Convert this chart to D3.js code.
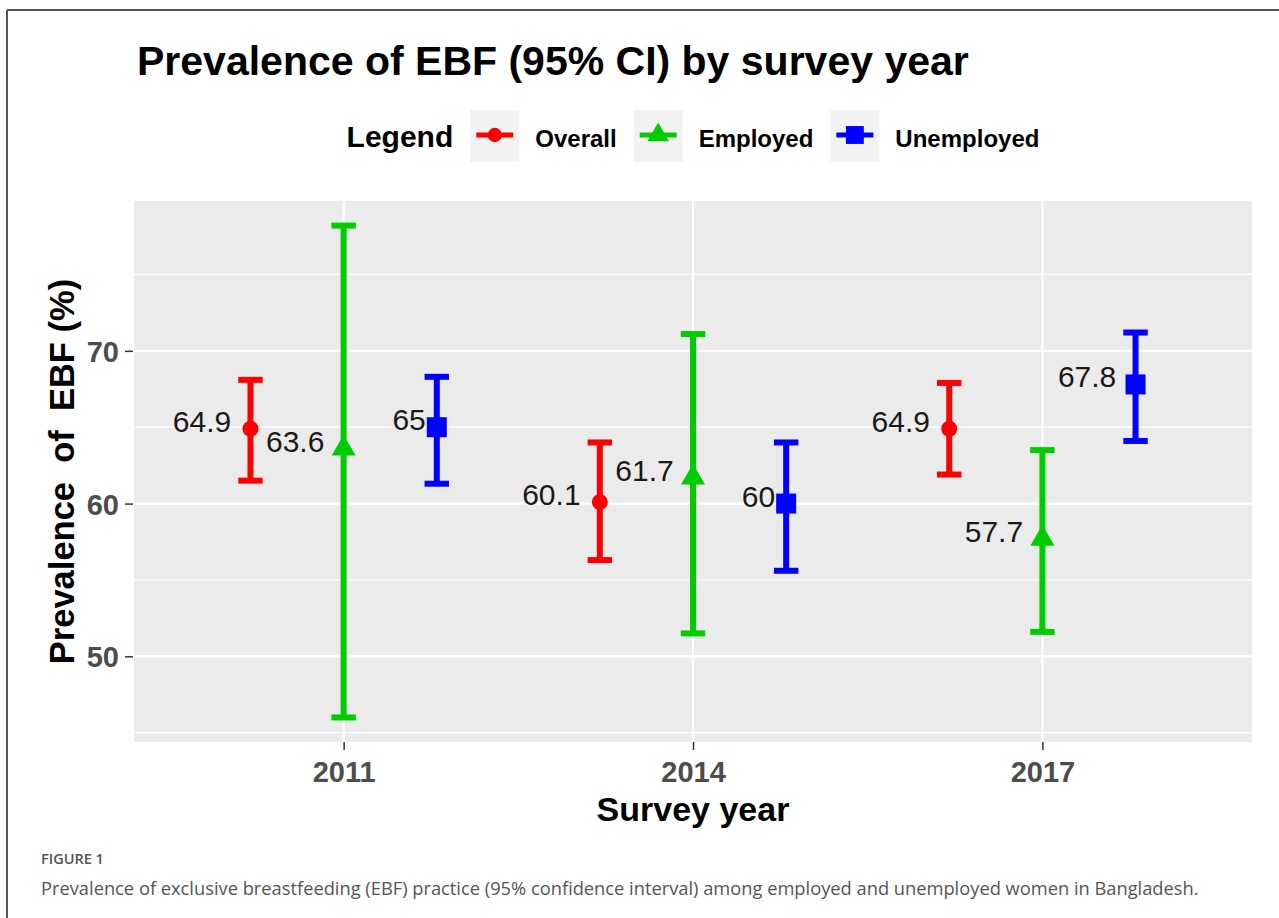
<!DOCTYPE html>
<html>
<head>
<meta charset="utf-8">
<script src="https://cdn.jsdelivr.net/npm/d3@7"></script>
<style>
body { margin: 0; background: #fff; }
text { font-family: "Liberation Sans", Arial, sans-serif; }
</style>
</head>
<body>
<div id="chart"></div>
<script>
// chart values
var years = ["2011", "2014", "2017"];
var groups = ["Overall", "Employed", "Unemployed"];
var estOverall = [64.9, 60.1, 64.9];
var lowOverall = [61.5, 56.3, 61.9];
var highOverall = [68.1, 64.0, 67.9];
var estEmployed = [63.6, 61.7, 57.7];
var lowEmployed = [46.0, 51.5, 51.6];
var highEmployed = [78.2, 71.1, 63.5];
var estUnemployed = [65, 60, 67.8];
var lowUnemployed = [61.3, 55.6, 64.1];
var highUnemployed = [68.3, 64.0, 71.2];
var yTicks = [50, 60, 70];
var yMinorTicks = [45, 55, 65, 75];

var colors = ["#ff0000", "#00cd00", "#0000ff"];
var shapes = [d3.symbolCircle, d3.symbolTriangle, d3.symbolSquare];
var shapeSizes = [200, 250, 400];

// svg area
var svgWidth = 1279;
var svgHeight = 918;
var panel = { left: 134, right: 1252, top: 201, bottom: 742 };

var svg = d3.select("#chart").append("svg")
    .attr("width", svgWidth)
    .attr("height", svgHeight);

// frame lines (top + left)
svg.append("line").attr("x1", 7).attr("x2", svgWidth).attr("y1", 10).attr("y2", 10)
    .attr("stroke", "#555").attr("stroke-width", 2);
svg.append("line").attr("x1", 7).attr("x2", 7).attr("y1", 10).attr("y2", svgHeight)
    .attr("stroke", "#555").attr("stroke-width", 2);

// build rows
var ests = [estOverall, estEmployed, estUnemployed];
var lows = [lowOverall, lowEmployed, lowUnemployed];
var highs = [highOverall, highEmployed, highUnemployed];
var rows = [];
groups.forEach(function(g, i) {
    years.forEach(function(y, j) {
        rows.push({ group: g, gi: i, year: y, est: ests[i][j], low: lows[i][j], high: highs[i][j] });
    });
});

// scales (ggplot-like 5% expansion)
var lo = d3.min(rows, d => d.low), hi = d3.max(rows, d => d.high);
var pad = (hi - lo) * 0.05;
var yscale = d3.scaleLinear().domain([lo - pad, hi + pad]).range([panel.bottom, panel.top]);
var xscale = d3.scalePoint().domain(years).range([panel.left, panel.right]).padding(0.6);
var step = xscale.step();
var dodge = d => (d.gi - 1) * 0.8 / 3 * step;
var capHalf = step * 0.035;

// panel background + grid
svg.append("rect")
    .attr("x", panel.left).attr("y", panel.top)
    .attr("width", panel.right - panel.left).attr("height", panel.bottom - panel.top)
    .attr("fill", "#ebebeb");

svg.selectAll(".minor").data(yMinorTicks).enter().append("line")
    .attr("x1", panel.left).attr("x2", panel.right)
    .attr("y1", d => yscale(d)).attr("y2", d => yscale(d))
    .attr("stroke", "#fff").attr("stroke-width", 1.2);
svg.selectAll(".major").data(yTicks).enter().append("line")
    .attr("x1", panel.left).attr("x2", panel.right)
    .attr("y1", d => yscale(d)).attr("y2", d => yscale(d))
    .attr("stroke", "#fff").attr("stroke-width", 2.2);
svg.selectAll(".vmajor").data(years).enter().append("line")
    .attr("x1", d => xscale(d)).attr("x2", d => xscale(d))
    .attr("y1", panel.top).attr("y2", panel.bottom)
    .attr("stroke", "#fff").attr("stroke-width", 2.2);

// axes
var yAxis = d3.axisLeft(yscale).tickValues(yTicks).tickSize(8).tickPadding(6);
var yG = svg.append("g").attr("transform", `translate(${panel.left - 1}, 0)`).call(yAxis);
var xAxis = d3.axisBottom(xscale).tickSize(8).tickPadding(6);
var xG = svg.append("g").attr("transform", `translate(0, ${panel.bottom})`).call(xAxis);
[yG, xG].forEach(function(g) {
    g.select(".domain").remove();
    g.selectAll(".tick line").attr("stroke", "#333").attr("stroke-width", 1.5);
    g.selectAll(".tick text")
        .style("font-family", '"Liberation Sans", Arial, sans-serif')
        .style("font-weight", "bold")
        .style("font-size", "29px")
        .attr("fill", "#4d4d4d");
});
yG.selectAll(".tick text").attr("dy", "0.36em");
xG.selectAll(".tick text").attr("dy", "0.9em");

// error bars
var bars = svg.append("g").selectAll("g").data(rows).enter().append("g")
    .attr("stroke", d => colors[d.gi]).attr("stroke-width", 6);
bars.append("line")
    .attr("x1", d => xscale(d.year) + dodge(d)).attr("x2", d => xscale(d.year) + dodge(d))
    .attr("y1", d => yscale(d.low)).attr("y2", d => yscale(d.high));
bars.append("line")
    .attr("x1", d => xscale(d.year) + dodge(d) - capHalf).attr("x2", d => xscale(d.year) + dodge(d) + capHalf)
    .attr("y1", d => yscale(d.low)).attr("y2", d => yscale(d.low));
bars.append("line")
    .attr("x1", d => xscale(d.year) + dodge(d) - capHalf).attr("x2", d => xscale(d.year) + dodge(d) + capHalf)
    .attr("y1", d => yscale(d.high)).attr("y2", d => yscale(d.high));

// points
svg.append("g").selectAll("path").data(rows).enter().append("path")
    .attr("d", d => d3.symbol().type(shapes[d.gi]).size(shapeSizes[d.gi])())
    .attr("transform", d => `translate(${xscale(d.year) + dodge(d)}, ${yscale(d.est)})`)
    .attr("fill", d => colors[d.gi]);

// value labels (hjust ~1.33)
svg.append("g").selectAll("text").data(rows).enter().append("text")
    .attr("y", d => yscale(d.est) + 3)
    .style("font-size", "30px")
    .attr("fill", "#1a1a1a")
    .attr("text-anchor", "end")
    .text(d => d.est)
    .attr("x", function(d) {
        var w = this.getComputedTextLength();
        return xscale(d.year) + dodge(d) - 0.33 * w;
    });

// title
svg.append("text")
    .attr("x", 137).attr("y", 75)
    .style("font-size", "41px").style("font-weight", "bold")
    .text("Prevalence of EBF (95% CI) by survey year");

// axis titles
svg.append("text")
    .attr("transform", `translate(74, ${(panel.top + panel.bottom) / 2}) rotate(-90)`)
    .attr("text-anchor", "middle")
    .style("font-size", "34.5px").style("font-weight", "bold")
    .style("white-space", "pre")
    .text("Prevalence  of  EBF (%)");
svg.append("text")
    .attr("x", (panel.left + panel.right) / 2).attr("y", 821)
    .attr("text-anchor", "middle")
    .style("font-size", "34px").style("font-weight", "bold")
    .text("Survey year");

// legend
var legend = svg.append("g");
var lx = 0;
var legTitle = legend.append("text").attr("x", 0).attr("y", 147)
    .style("font-size", "30px").style("font-weight", "bold").text("Legend");
lx += legTitle.node().getComputedTextLength() + 17;
groups.forEach(function(g, i) {
    legend.append("rect").attr("x", lx).attr("y", 110).attr("width", 49).attr("height", 52)
        .attr("fill", "#f2f2f2");
    legend.append("line").attr("x1", lx + 6).attr("x2", lx + 43).attr("y1", 135).attr("y2", 135)
        .attr("stroke", colors[i]).attr("stroke-width", 5);
    legend.append("path")
        .attr("d", d3.symbol().type(shapes[i]).size(shapeSizes[i] * 0.8)())
        .attr("transform", `translate(${lx + 24.5}, 135)`)
        .attr("fill", colors[i]);
    lx += 49 + 16;
    var t = legend.append("text").attr("x", lx).attr("y", 147)
        .style("font-size", "24px").style("font-weight", "bold").text(g);
    lx += t.node().getComputedTextLength() + 17;
});
lx -= 17;
legend.attr("transform", `translate(${(panel.left + panel.right) / 2 - lx / 2}, 0)`);

// caption
svg.append("text")
    .attr("x", 41).attr("y", 864)
    .style("font-family", '"Open Sans", sans-serif')
    .style("font-size", "14.5px").style("font-weight", "600")
    .attr("fill", "#555")
    .text("FIGURE 1");
svg.append("text")
    .attr("x", 41).attr("y", 895)
    .style("font-family", '"Open Sans", sans-serif')
    .style("font-size", "18.3px")
    .attr("fill", "#555")
    .text("Prevalence of exclusive breastfeeding (EBF) practice (95% confidence interval) among employed and unemployed women in Bangladesh.");
</script>
</body>
</html>
